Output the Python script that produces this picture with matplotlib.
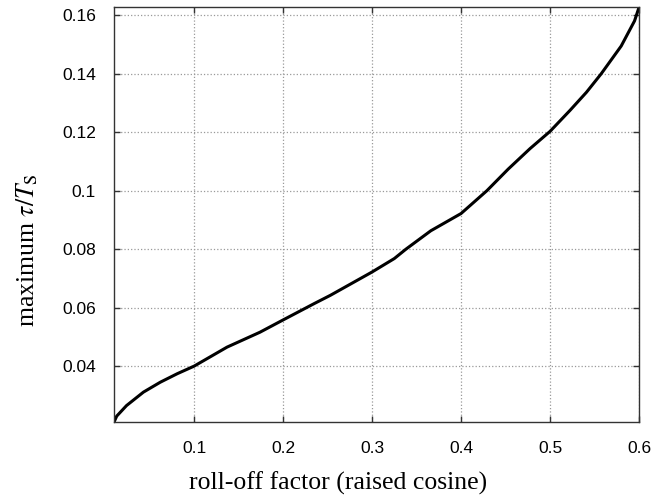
import matplotlib
matplotlib.use("Agg")
import matplotlib.pyplot as plt

# values
rolloff = [0.01, 0.013, 0.024, 0.043, 0.062, 0.081, 0.1, 0.137, 0.174, 0.2,
           0.235, 0.253, 0.3, 0.325, 0.338, 0.366, 0.4, 0.429, 0.453, 0.4775,
           0.5, 0.5225, 0.541, 0.5575, 0.58, 0.595, 0.6]
max_tau = [0.0209, 0.0229, 0.0265, 0.0311, 0.0345, 0.0374, 0.0400, 0.0465,
           0.0516, 0.0558, 0.0614, 0.0642, 0.0722, 0.0768, 0.0800, 0.0863,
           0.0922, 0.1000, 0.1074, 0.1144, 0.1203, 0.1275, 0.1337, 0.1400,
           0.1495, 0.1581, 0.1627]

xticks = [0.1, 0.2, 0.3, 0.4, 0.5, 0.6]
xticklabels = ["0.1", "0.2", "0.3", "0.4", "0.5", "0.6"]
yticks = [0.04, 0.06, 0.08, 0.1, 0.12, 0.14, 0.16]
yticklabels = ["0.04", "0.06", "0.08", "0.1", "0.12", "0.14", "0.16"]

plt.rcParams['mathtext.fontset'] = 'stix'

fig = plt.figure(figsize=(6.67, 4.97), dpi=100)
ax = fig.add_axes([0.171, 0.151, 0.787, 0.834])

ax.plot(rolloff, max_tau, color='black', lw=2.2, solid_capstyle='round')

ax.set_xlim(rolloff[0], rolloff[-1])
ax.set_ylim(max_tau[0], max_tau[-1])
ax.set_xticks(xticks)
ax.set_xticklabels(xticklabels, family='Liberation Sans', fontsize=12.5)
ax.set_yticks(yticks)
ax.set_yticklabels(yticklabels, family='Liberation Sans', fontsize=12.5)
ax.tick_params(direction='in', length=4, width=1, top=True, right=True,
               color='#333333')
ax.tick_params(axis='x', pad=14)
ax.tick_params(axis='y', pad=13)
ax.grid(True, linestyle=':', color='#999999', lw=0.9)
for s in ax.spines.values():
    s.set_color('#333333')
    s.set_linewidth(1.0)

# axis titles placed like the reference (not centred on the axes)
fig.text(338 / 667, 1 - 483 / 497, "roll-off factor (raised cosine)",
         family='Liberation Serif', fontsize=18.5, ha='center', va='center')
fig.text(27 / 667, 1 - 250 / 497, r"maximum $\tau/T_{\mathrm{S}}$",
         family='Liberation Serif', fontsize=18.5, rotation=90,
         ha='center', va='center')

fig.savefig("out.png", dpi=100)
